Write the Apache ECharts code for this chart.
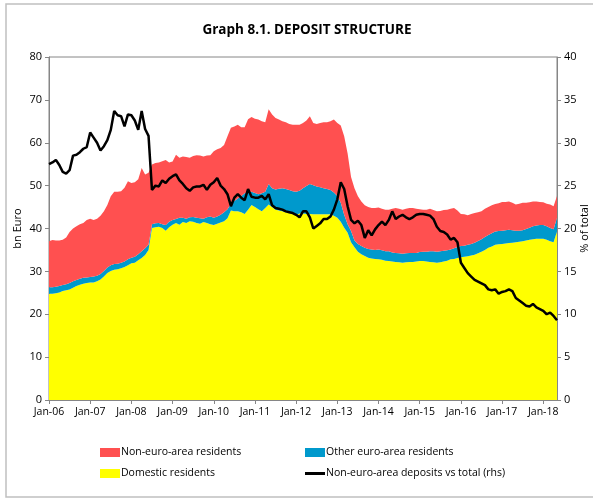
<!DOCTYPE html>
<html>
<head>
<meta charset="utf-8">
<script src="https://cdn.jsdelivr.net/npm/echarts@6/dist/echarts.min.js"></script>
<style>
  html, body { margin: 0; padding: 0; background: #ffffff; }
  #chart { width: 593px; height: 500px; }
</style>
</head>
<body>
<div id="chart"></div>
<script>
// Monthly series, Jan-2006 .. May-2018 (one row per year)
const monthNames = ['Jan','Feb','Mar','Apr','May','Jun','Jul','Aug','Sep','Oct','Nov','Dec'];
const firstYear = 2006, monthCount = 149;

// Domestic residents, bn Euro
const domestic = [
  24.8, 24.8, 24.9, 25.1, 25.4, 25.6, 25.8, 26.2, 26.6, 26.9, 27.1, 27.3,
  27.4, 27.4, 27.7, 28.1, 28.8, 29.6, 30.1, 30.4, 30.5, 30.7, 31.0, 31.4,
  31.9, 32.0, 32.6, 33.1, 33.8, 35.0, 40.1, 40.3, 40.4, 40.1, 39.5, 40.3,
  40.9, 41.3, 40.9, 41.5, 41.3, 41.7, 41.6, 41.3, 41.1, 41.5, 41.3, 41.0,
  40.8, 41.1, 41.4, 41.7, 42.4, 44.2, 44.0, 44.0, 43.8, 43.4, 44.4, 45.5,
  45.0, 44.5, 44.0, 44.8, 45.6, 45.0, 44.4, 44.2, 44.0, 43.8, 43.6, 43.4,
  43.2, 43.5, 43.5, 43.4, 43.4, 43.3, 43.3, 43.3, 43.3, 43.3, 43.3, 43.0,
  42.5, 41.6, 40.2, 39.0, 36.8, 35.6, 34.6, 34.0, 33.6, 33.2, 33.0, 32.9,
  32.8, 32.7, 32.5, 32.4, 32.3, 32.2, 32.1, 32.0, 32.1, 32.2, 32.2, 32.3,
  32.4, 32.4, 32.3, 32.2, 32.1, 32.0, 32.1, 32.3, 32.5, 32.8, 32.9, 33.1,
  33.3, 33.4, 33.5, 33.7, 33.9, 34.2, 34.6, 35.0, 35.5, 35.8, 36.2, 36.3,
  36.4, 36.5, 36.6, 36.7, 36.8, 36.9, 37.0, 37.2, 37.4, 37.5, 37.6, 37.6,
  37.6, 37.4, 37.0, 36.8, 39.3
];

// Other euro-area residents, bn Euro
const otherEuroArea = [
  1.5, 1.5, 1.5, 1.5, 1.4, 1.4, 1.5, 1.5, 1.4, 1.4, 1.4, 1.3,
  1.3, 1.4, 1.3, 1.3, 1.3, 1.3, 1.3, 1.3, 1.3, 1.3, 1.3, 1.4,
  1.3, 1.4, 1.4, 1.6, 1.6, 1.2, 0.9, 0.9, 0.9, 0.9, 1.3, 1.3,
  1.1, 0.9, 1.6, 1.0, 1.0, 0.9, 1.1, 1.2, 1.3, 0.8, 1.3, 1.8,
  1.7, 1.7, 1.8, 2.1, 2.1, 1.6, 2.4, 3.0, 3.8, 4.8, 4.2, 3.1,
  3.3, 3.5, 4.2, 3.8, 4.8, 4.4, 4.7, 5.1, 5.4, 5.4, 5.4, 5.3,
  5.4, 5.3, 5.9, 6.5, 7.0, 6.8, 6.5, 6.3, 6.1, 5.9, 5.7, 5.4,
  5.1, 4.4, 3.0, 2.0, 2.6, 1.6, 1.8, 1.9, 1.9, 2.0, 2.1, 2.1,
  2.3, 2.2, 2.2, 2.3, 2.1, 2.1, 2.1, 2.1, 2.1, 2.1, 2.1, 2.0,
  2.1, 2.2, 2.3, 2.5, 2.6, 2.6, 2.6, 2.5, 2.4, 2.3, 2.5, 2.6,
  2.6, 2.6, 2.7, 2.7, 2.8, 2.9, 2.9, 3.0, 3.0, 3.1, 3.1, 3.1,
  3.1, 3.1, 3.1, 2.9, 2.7, 2.6, 2.6, 2.7, 2.8, 3.0, 3.1, 3.2,
  3.2, 3.1, 3.1, 3.0, 3.2
];

// Non-euro-area residents, bn Euro
const nonEuroArea = [
  10.7, 11.0, 10.8, 10.6, 10.6, 10.9, 11.9, 12.3, 12.5, 12.7, 12.8, 13.4,
  13.6, 13.2, 13.3, 13.6, 13.9, 14.6, 16.1, 16.9, 16.8, 16.7, 17.2, 18.2,
  17.4, 17.4, 17.5, 19.4, 17.2, 16.8, 13.9, 14.1, 14.1, 14.7, 15.2, 13.8,
  13.6, 15.0, 14.0, 14.3, 14.4, 13.9, 14.2, 14.6, 14.6, 14.5, 14.4, 14.3,
  15.5, 15.7, 15.6, 15.7, 17.0, 17.7, 17.4, 17.2, 16.0, 15.4, 16.9, 17.4,
  17.3, 17.4, 16.8, 16.2, 17.4, 17.2, 16.7, 16.1, 15.6, 15.6, 15.4, 15.5,
  15.6, 15.4, 15.2, 15.3, 15.8, 14.5, 14.6, 15.0, 15.4, 15.6, 16.0, 17.0,
  17.0, 18.0, 18.3, 16.5, 12.6, 12.2, 11.1, 10.4, 9.9, 9.8, 9.7, 9.8,
  9.8, 9.7, 9.7, 9.7, 10.2, 10.5, 10.4, 10.3, 10.4, 10.5, 10.5, 10.3,
  10.0, 9.8, 9.8, 9.9, 9.6, 9.4, 9.4, 9.5, 9.5, 9.5, 9.4, 8.5,
  7.5, 7.3, 6.9, 7.0, 6.9, 6.7, 6.5, 6.6, 6.5, 6.5, 6.4, 6.5,
  6.7, 6.6, 6.6, 6.4, 6.1, 6.3, 6.4, 6.1, 5.9, 5.8, 5.6, 5.4,
  5.3, 5.3, 5.5, 5.4, 5.1
];

// Non-euro-area deposits as % of total deposits (right axis)
const nonEuroShare = [
  27.5, 27.7, 28.0, 27.4, 26.6, 26.4, 26.8, 28.5, 28.6, 28.9, 29.3, 29.5,
  31.2, 30.6, 30.0, 29.1, 29.6, 30.3, 31.5, 33.7, 33.2, 33.1, 31.9, 33.3,
  33.2, 32.6, 31.5, 33.7, 31.6, 30.8, 24.5, 25.0, 24.9, 25.6, 25.3, 25.8,
  26.1, 26.3, 25.6, 25.2, 24.7, 24.4, 24.8, 24.9, 24.9, 25.1, 24.5, 25.1,
  25.4, 25.9, 25.0, 24.6, 24.0, 22.6, 23.6, 24.0, 23.6, 23.3, 24.6, 23.7,
  23.6, 23.6, 23.8, 23.4, 24.0, 22.7, 22.4, 22.3, 22.2, 22.0, 21.9, 21.8,
  21.6, 21.3, 22.0, 22.0, 21.3, 20.0, 20.3, 20.6, 21.1, 21.1, 21.4, 22.2,
  23.4, 25.4, 24.6, 22.6, 21.0, 20.6, 20.9, 20.4, 18.9, 19.8, 19.2, 19.9,
  20.4, 20.8, 20.4, 21.0, 22.0, 21.1, 21.4, 21.6, 21.3, 21.1, 21.3, 21.6,
  21.7, 21.7, 21.6, 21.5, 21.1, 20.2, 19.7, 19.6, 19.3, 18.7, 18.9, 18.4,
  16.0, 15.4, 14.8, 14.4, 14.0, 13.8, 13.6, 13.4, 12.9, 12.8, 12.9, 12.4,
  12.6, 12.7, 12.9, 12.7, 11.9, 11.6, 11.3, 11.0, 10.9, 11.2, 10.8, 10.6,
  10.4, 10.0, 10.2, 9.8, 9.3
];

// Month labels such as "Jan-06"
const months = [];
for (let i = 0; i < monthCount; i++) {
  const y = firstYear + Math.floor(i / 12);
  months.push(monthNames[i % 12] + '-' + String(y % 100).padStart(2, '0'));
}

const FONT = 'Open Sans';
const RED = '#FF5050', BLUE = '#0099CC', YELLOW = '#FFFF00';
const AXIS_GREY = '#868686';

const chart = echarts.init(document.getElementById('chart'), null, { renderer: 'canvas' });

const legendBase = {
  orient: 'horizontal',
  itemWidth: 20,
  itemHeight: 9,
  itemGap: 0,
  textStyle: { fontFamily: FONT, fontSize: 10.5, color: '#000', padding: [0, 0, 0, -4] },
  selectedMode: false
};

chart.setOption({
  backgroundColor: '#ffffff',
  animation: false,
  title: {
    text: 'Graph 8.1. DEPOSIT STRUCTURE',
    left: 302,
    top: 18,
    textAlign: 'center',
    textStyle: { fontFamily: FONT, fontSize: 13.5, fontWeight: 'bold', color: '#000' }
  },
  graphic: [{
    type: 'rect',
    shape: { x: 6, y: 4, width: 600, height: 493 },
    style: { fill: 'none', stroke: '#c0c0c0', lineWidth: 1.5 },
    silent: true
  }],
  legend: [
    Object.assign({}, legendBase, { left: 95, top: 442, data: [{ name: 'Non-euro-area residents', icon: 'rect' }] }),
    Object.assign({}, legendBase, { left: 300, top: 442, data: [{ name: 'Other euro-area residents', icon: 'rect' }] }),
    Object.assign({}, legendBase, { left: 95, top: 463, data: [{ name: 'Domestic residents', icon: 'rect' }] }),
    Object.assign({}, legendBase, { left: 300, top: 463, itemHeight: 3,
      data: [{ name: 'Non-euro-area deposits vs total (rhs)', icon: 'rect' }] })
  ],
  grid: {
    left: 49, right: 36, top: 57, bottom: 100,
    outerBoundsMode: 'none',
    show: true, borderColor: AXIS_GREY, borderWidth: 1, backgroundColor: 'transparent'
  },
  xAxis: {
    type: 'category',
    data: months,
    boundaryGap: false,
    axisLine: { lineStyle: { color: AXIS_GREY, width: 1 } },
    axisTick: { interval: 11, length: 4, lineStyle: { color: AXIS_GREY } },
    axisLabel: { interval: 11, fontFamily: FONT, fontSize: 10.5, color: '#000', margin: 7 },
    splitLine: { show: false }
  },
  yAxis: [{
    type: 'value',
    min: 0, max: 80, interval: 10,
    name: 'bn Euro',
    nameLocation: 'middle',
    nameGap: 26,
    nameMoveOverlap: false,
    nameTextStyle: { fontFamily: FONT, fontSize: 11, color: '#000' },
    axisLine: { show: true, lineStyle: { color: AXIS_GREY } },
    axisTick: { show: true, length: 4, lineStyle: { color: AXIS_GREY } },
    axisLabel: { fontFamily: FONT, fontSize: 11, color: '#000', margin: 7 },
    splitLine: { show: false }
  }, {
    type: 'value',
    min: 0, max: 40, interval: 5,
    name: '% of total',
    nameLocation: 'middle',
    nameGap: 22,
    nameMoveOverlap: false,
    nameTextStyle: { fontFamily: FONT, fontSize: 11, color: '#000' },
    axisLine: { show: true, lineStyle: { color: AXIS_GREY } },
    axisTick: { show: true, length: 4, lineStyle: { color: AXIS_GREY } },
    axisLabel: { fontFamily: FONT, fontSize: 11, color: '#000', margin: 7 },
    splitLine: { show: false }
  }],
  series: [{
    name: 'Domestic residents',
    type: 'line',
    stack: 'deposits',
    data: domestic,
    showSymbol: false,
    symbol: 'none',
    color: YELLOW,
    lineStyle: { width: 0 },
    areaStyle: { color: YELLOW, opacity: 1 }
  }, {
    name: 'Other euro-area residents',
    type: 'line',
    stack: 'deposits',
    data: otherEuroArea,
    showSymbol: false,
    symbol: 'none',
    color: BLUE,
    lineStyle: { width: 0 },
    areaStyle: { color: BLUE, opacity: 1 }
  }, {
    name: 'Non-euro-area residents',
    type: 'line',
    stack: 'deposits',
    data: nonEuroArea,
    showSymbol: false,
    symbol: 'none',
    color: RED,
    lineStyle: { width: 0 },
    areaStyle: { color: RED, opacity: 1 }
  }, {
    name: 'Non-euro-area deposits vs total (rhs)',
    type: 'line',
    yAxisIndex: 1,
    data: nonEuroShare,
    showSymbol: false,
    symbol: 'none',
    color: '#000',
    lineStyle: { color: '#000', width: 2.5 },
    z: 5
  }]
});
</script>
</body>
</html>
